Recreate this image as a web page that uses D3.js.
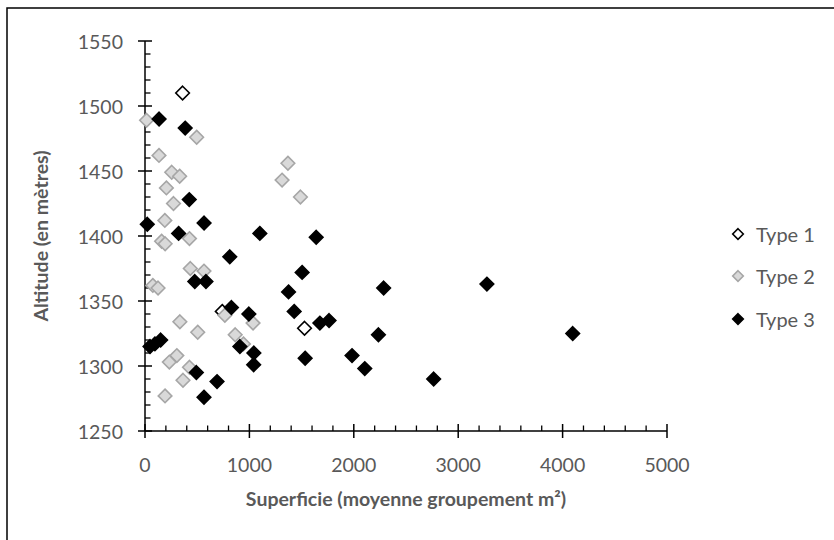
<!DOCTYPE html>
<html><head><meta charset="utf-8">
<script src="https://cdn.jsdelivr.net/npm/d3@7"></script>
<style>body{margin:0;background:#fff}svg{display:block}</style>
</head><body>
<script>
const xTicks = [0, 1000, 2000, 3000, 4000, 5000];
const yTicks = [1250, 1300, 1350, 1400, 1450, 1500, 1550];
const seriesNames = ["Type 1", "Type 2", "Type 3"];
const type1X = [360, 740, 1528];
const type1Y = [1510, 1342, 1329];
const type2X = [15, 495, 134, 256, 332, 205, 273, 190, 159, 193, 426, 434, 565, 75, 125, 1313, 1369, 1489, 765, 1035, 864, 943, 334, 505, 305, 233, 426, 364, 192];
const type2Y = [1489, 1476, 1462, 1449, 1446, 1437, 1425, 1412, 1396, 1394, 1398, 1375, 1373, 1362, 1360, 1443, 1456, 1430, 1339, 1333, 1324, 1317, 1334, 1326, 1308, 1303, 1299, 1289, 1277];
const type3X = [135, 385, 424, 22, 322, 566, 1100, 1640, 812, 1505, 477, 584, 1375, 2286, 3275, 828, 1429, 995, 1675, 1763, 2236, 4097, 48, 95, 150, 909, 1043, 1041, 1534, 1983, 2105, 492, 690, 2765, 565];
const type3Y = [1490, 1483, 1428, 1409, 1402, 1410, 1402, 1399, 1384, 1372, 1365, 1365, 1357, 1360, 1363, 1345, 1342, 1340, 1333, 1335, 1324, 1325, 1315, 1317, 1320, 1315, 1310, 1301, 1306, 1308, 1298, 1295, 1288, 1290, 1276];
const xTitle = "Superficie (moyenne groupement m²)";
const yTitle = "Altitude (en mètres)";

const W = 834, H = 540;
const svg = d3.select("body").append("svg").attr("width", W).attr("height", H);
const font = "Lato, 'Open Sans', sans-serif";
const grey = "#595959";

// outer border (only left/top visible)
svg.append("rect").attr("x", 7).attr("y", 8).attr("width", 900).attr("height", 900)
  .attr("fill", "none").attr("stroke", "#000").attr("stroke-width", 1.5);

const x = d3.scaleLinear().domain([0, 5000]).range([145, 667]);
const y = d3.scaleLinear().domain([1250, 1550]).range([431, 41]);

const g = svg.append("g");
const xMinor = d3.range(0, 5001, 200).filter(v => v % 1000 !== 0);
const yMinor = d3.range(1250, 1551, 10).filter(v => v % 50 !== 0);
g.selectAll(".xm").data(xMinor).join("line")
  .attr("x1", d => x(d)).attr("x2", d => x(d)).attr("y1", y(1250)).attr("y2", y(1250) - 5.5)
  .attr("stroke", "#000").attr("stroke-width", 1.3);
g.selectAll(".ym").data(yMinor).join("line")
  .attr("y1", d => y(d)).attr("y2", d => y(d)).attr("x1", x(0)).attr("x2", x(0) + 5.5)
  .attr("stroke", "#000").attr("stroke-width", 1.3);
g.selectAll(".xM").data(xTicks).join("line")
  .attr("x1", d => x(d)).attr("x2", d => x(d)).attr("y1", y(1250) - 7).attr("y2", y(1250) + 7)
  .attr("stroke", "#000").attr("stroke-width", 1.5);
g.selectAll(".yM").data(yTicks).join("line")
  .attr("y1", d => y(d)).attr("y2", d => y(d)).attr("x1", x(0) - 7).attr("x2", x(0) + 7)
  .attr("stroke", "#000").attr("stroke-width", 1.5);
g.append("line").attr("x1", x(0)).attr("x2", x(5000)).attr("y1", y(1250)).attr("y2", y(1250))
  .attr("stroke", "#000").attr("stroke-width", 1.5);
g.append("line").attr("x1", x(0)).attr("x2", x(0)).attr("y1", y(1250)).attr("y2", y(1550))
  .attr("stroke", "#000").attr("stroke-width", 1.5);

// tick labels
g.selectAll(".xl").data(xTicks).join("text")
  .attr("x", d => x(d)).attr("y", 464).attr("text-anchor", "middle").attr("dominant-baseline", "central")
  .attr("font-family", font).attr("font-size", 19.5).attr("fill", grey).text(d => d);
g.selectAll(".yl").data(yTicks).join("text")
  .attr("x", 123).attr("y", d => y(d)).attr("text-anchor", "end").attr("dominant-baseline", "central")
  .attr("font-family", font).attr("font-size", 19.5).attr("fill", grey).text(d => d);

// titles
svg.append("text").attr("x", 406).attr("y", 498).attr("text-anchor", "middle").attr("dominant-baseline", "central")
  .attr("font-family", font).attr("font-size", 19.5).attr("font-weight", "bold").attr("fill", grey).text(xTitle);
svg.append("text").attr("transform", "translate(40,236) rotate(-90)").attr("text-anchor", "middle")
  .attr("dominant-baseline", "central")
  .attr("font-family", font).attr("font-size", 19.5).attr("font-weight", "bold").attr("fill", grey).text(yTitle);

// markers
const diamond = r => `M0,${-r}L${r},0L0,${r}L${-r},0Z`;
const styles = [
  {fill: "#fff", stroke: "#000"},
  {fill: "#d9d9d9", stroke: "#a6a6a6"},
  {fill: "#000", stroke: "#000"}
];
const series = [
  type1X.map((v, i) => [v, type1Y[i]]),
  type2X.map((v, i) => [v, type2Y[i]]),
  type3X.map((v, i) => [v, type3Y[i]])
];
series.forEach((pts, si) => {
  svg.append("g").selectAll("path").data(pts).join("path")
    .attr("d", diamond(6.8))
    .attr("transform", d => `translate(${x(d[0])},${y(d[1])})`)
    .attr("fill", styles[si].fill).attr("stroke", styles[si].stroke).attr("stroke-width", 1.6);
});

// legend
const legY = [234, 276, 319];
seriesNames.forEach((n, i) => {
  svg.append("path").attr("d", diamond(5.3)).attr("transform", `translate(738,${legY[i]})`)
    .attr("fill", styles[i].fill).attr("stroke", styles[i].stroke).attr("stroke-width", 1.6);
  svg.append("text").attr("x", 756).attr("y", legY[i]).attr("dominant-baseline", "central")
    .attr("font-family", font).attr("font-size", 20).attr("fill", grey).text(n);
});
</script>
</body></html>
